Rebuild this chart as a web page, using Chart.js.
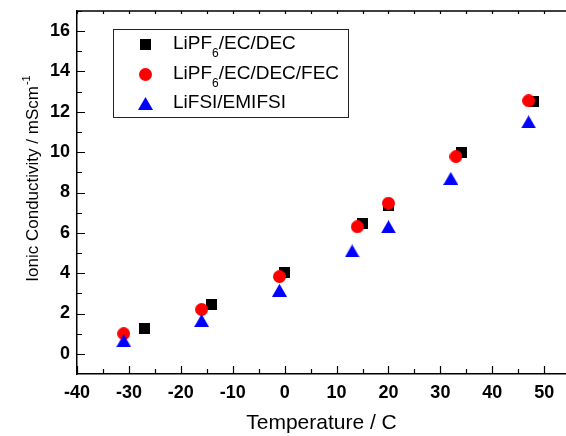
<!DOCTYPE html>
<html>
<head>
<meta charset="utf-8">
<script src="https://cdn.jsdelivr.net/npm/chart.js@4"></script>
<style>
  html, body { margin: 0; padding: 0; background: #fff; }
  #wrap { width: 566px; height: 436px; }
</style>
</head>
<body>
<div id="wrap"><canvas id="c" width="566" height="436"></canvas></div>
<script>
// ---- data ----
const SERIES_LABELS = ['LiPF₆/EC/DEC', 'LiPF₆/EC/DEC/FEC', 'LiFSI/EMIFSI'];
const TEMP_A = [-27, -14, 0, 15, 20, 34, 48];
const COND_A = [1.25, 2.43, 4.03, 6.47, 7.35, 9.97, 12.52];
const TEMP_B = [-31, -16, -1, 14, 20, 33, 47];
const COND_B = [1.0, 2.2, 3.83, 6.3, 7.47, 9.78, 12.55];
const TEMP_C = [-31, -16, -1, 13, 20, 32, 47];
const COND_C = [0.65, 1.65, 3.15, 5.1, 6.3, 8.7, 11.5];
const X_TICKS = [-40, -30, -20, -10, 0, 10, 20, 30, 40, 50];
const Y_TICKS = [0, 2, 4, 6, 8, 10, 12, 14, 16];
const X_TITLE = 'Temperature / C';
const Y_TITLE = 'Ionic Conductivity / mScm';
const Y_TITLE_SUP = '-1';

const FONT = '"Liberation Sans", Arial, Helvetica, sans-serif';

function makeMarker(kind, color, w, h) {
  const c = document.createElement('canvas');
  c.width = w; c.height = h;
  const g = c.getContext('2d');
  g.fillStyle = color;
  g.beginPath();
  if (kind === 'rect') {
    g.rect(0, 0, w, h);
  } else if (kind === 'circle') {
    g.arc(w / 2, h / 2, w / 2, 0, Math.PI * 2);
  } else {
    g.moveTo(w / 2, 0); g.lineTo(w, h); g.lineTo(0, h); g.closePath();
  }
  g.fill();
  return c;
}
const MARK_SQ = makeMarker('rect', '#000000', 11, 11);
const MARK_CI = makeMarker('circle', '#ff0000', 13, 13);
const MARK_TR = makeMarker('tri', '#0000ff', 15, 13);
const MARKERS = [MARK_SQ, MARK_CI, MARK_TR];

function pts(xs, ys) { return xs.map((x, i) => ({ x: x, y: ys[i] })); }

// minor/major inward ticks, top frame line
const frameTicks = {
  id: 'frameTicks',
  afterDraw(chart) {
    const { ctx, chartArea: a, scales: { x, y } } = chart;
    ctx.save();
    ctx.strokeStyle = '#000';
    ctx.lineWidth = 1.5;
    ctx.beginPath();
    ctx.moveTo(a.left, a.top); ctx.lineTo(a.right, a.top);
    ctx.stroke();
    ctx.lineWidth = 1.2;
    ctx.beginPath();
    for (let v = -40; v <= x.max; v += 5) {
      const px = Math.round(x.getPixelForValue(v)) + 0.5;
      const major = v % 10 === 0;
      const L = major ? 8 : 5;
      ctx.moveTo(px, a.bottom); ctx.lineTo(px, a.bottom - L);
      ctx.moveTo(px, a.top); ctx.lineTo(px, a.top + 3);
    }
    for (let v = 0; v <= 17; v += 1) {
      const py = Math.round(y.getPixelForValue(v)) + 0.5;
      const major = v % 2 === 0;
      const L = major ? 8 : 5;
      ctx.moveTo(a.left, py); ctx.lineTo(a.left + L, py);
    }
    ctx.stroke();
    ctx.restore();
  }
};

// y-axis title with superscript
const yTitle = {
  id: 'yTitle',
  afterDraw(chart) {
    const { ctx } = chart;
    ctx.save();
    ctx.fillStyle = '#000';
    ctx.translate(38, 179);
    ctx.rotate(-Math.PI / 2);
    ctx.textBaseline = 'alphabetic';
    ctx.textAlign = 'left';
    ctx.font = '17px ' + FONT;
    const w1 = ctx.measureText(Y_TITLE).width;
    ctx.font = '11px ' + FONT;
    const w2 = ctx.measureText(Y_TITLE_SUP).width;
    const start = -(w1 + w2) / 2;
    ctx.font = '17px ' + FONT;
    ctx.fillText(Y_TITLE, start, 0);
    ctx.font = '11px ' + FONT;
    ctx.fillText(Y_TITLE_SUP, start + w1 + 1, -8);
    ctx.restore();
  }
};

// legend box with subscripts
const boxLegend = {
  id: 'boxLegend',
  afterDraw(chart) {
    const { ctx } = chart;
    ctx.save();
    ctx.strokeStyle = '#222';
    ctx.lineWidth = 1;
    ctx.strokeRect(113.5, 29.5, 235, 88);
    const rows = [44, 74, 103.5];
    const baselines = [49, 79, 108];
    chart.data.datasets.forEach((ds, i) => {
      const m = MARKERS[i];
      ctx.drawImage(m, Math.round(145 - m.width / 2), Math.round(rows[i] - m.height / 2));
      let xx = 173;
      ctx.fillStyle = '#000';
      ctx.textBaseline = 'alphabetic';
      ctx.textAlign = 'left';
      for (const ch of ds.label) {
        if (ch === '₆') {
          ctx.font = '12px ' + FONT;
          ctx.fillText('6', xx, baselines[i] + 8);
          xx += ctx.measureText('6').width;
        } else {
          ctx.font = '19px ' + FONT;
          ctx.fillText(ch, xx, baselines[i]);
          xx += ctx.measureText(ch).width;
        }
      }
    });
    ctx.restore();
  }
};

new Chart(document.getElementById('c'), {
  type: 'scatter',
  data: {
    datasets: [
      { label: SERIES_LABELS[0], data: pts(TEMP_A, COND_A), pointStyle: MARK_SQ, order: 3, backgroundColor: '#000', borderColor: '#000' },
      { label: SERIES_LABELS[1], data: pts(TEMP_B, COND_B), pointStyle: MARK_CI, order: 2, backgroundColor: '#f00', borderColor: '#f00' },
      { label: SERIES_LABELS[2], data: pts(TEMP_C, COND_C), pointStyle: MARK_TR, order: 1, backgroundColor: '#00f', borderColor: '#00f' }
    ]
  },
  options: {
    responsive: false,
    animation: false,
    devicePixelRatio: 1,
    layout: { autoPadding: false, padding: { top: 11, right: 0, left: 0, bottom: 0 } },
    plugins: { legend: { display: false }, tooltip: { enabled: false } },
    scales: {
      x: {
        type: 'linear',
        min: -40, max: 54.2,
        offset: false,
        afterBuildTicks: s => { s.ticks = X_TICKS.map(v => ({ value: v })); },
        afterFit: s => { s.height = 62; s.paddingLeft = 0; s.paddingRight = 0; },
        grid: { display: false, drawTicks: false },
        border: { display: true, color: '#000', width: 1.5 },
        ticks: { color: '#000', font: { family: FONT, size: 18, weight: 'bold' }, padding: 8, maxRotation: 0, autoSkip: false },
        title: { display: true, text: X_TITLE, color: '#000', font: { family: FONT, size: 21 }, padding: { top: 0, bottom: 0 } }
      },
      y: {
        type: 'linear',
        min: -1, max: 17,
        afterBuildTicks: s => { s.ticks = Y_TICKS.map(v => ({ value: v })); },
        afterFit: s => { s.width = 77; s.paddingTop = 0; s.paddingBottom = 0; },
        grid: { display: false, drawTicks: false },
        border: { display: true, color: '#000', width: 1.5 },
        ticks: { color: '#000', font: { family: FONT, size: 18, weight: 'bold' }, padding: 7, autoSkip: false }
      }
    }
  },
  plugins: [frameTicks, yTitle, boxLegend]
});
</script>
</body>
</html>
